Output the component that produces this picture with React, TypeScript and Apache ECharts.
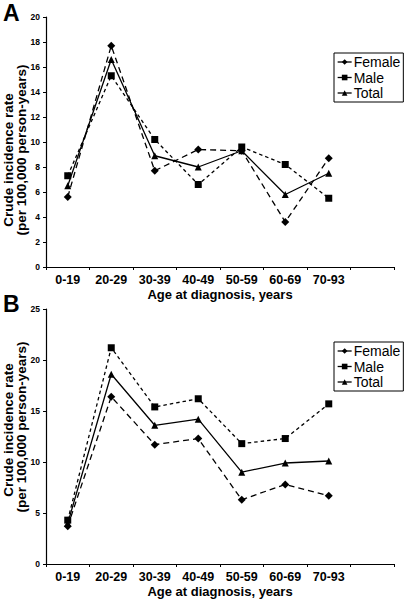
import React, { useEffect, useRef } from "react";
import * as echarts from "echarts";

const categories = ["0-19", "20-29", "30-39", "40-49", "50-59", "60-69", "70-93", ""];

const femaleA = [5.6, 17.7, 7.7, 9.4, 9.3, 3.6, 8.7];
const maleA = [7.3, 15.3, 10.2, 6.6, 9.6, 8.2, 5.5];
const totalA = [6.5, 16.6, 8.9, 8.0, 9.3, 5.8, 7.5];

const femaleB = [3.7, 16.4, 11.7, 12.3, 6.3, 7.8, 6.7];
const maleB = [4.3, 21.2, 15.4, 16.2, 11.8, 12.3, 15.7];
const totalB = [4.0, 18.6, 13.6, 14.2, 9.0, 9.9, 10.1];

const yName1 = "Crude incidence rate";
const yName2 = "(per 100,000 person-years)";

const FONT = "'Liberation Sans', Arial, Helvetica, sans-serif";

export default function App() {
  const ref = useRef<HTMLDivElement>(null);
  useEffect(() => {
    if (!ref.current) return;
    const chart = echarts.init(ref.current, null, { renderer: "svg" });

    const xAxisBase = (gridIndex: number) => ({
      type: "category" as const,
      gridIndex,
      data: categories,
      boundaryGap: true,
      name: "Age at diagnosis, years",
      nameLocation: "middle" as const,
      nameGap: 21,
      nameTextStyle: { fontFamily: FONT, fontWeight: "bold", fontSize: 13, color: "#000" },
      axisLine: { lineStyle: { color: "#000", width: 1.2 } },
      axisTick: { show: true, interval: 0, length: 3, inside: false, lineStyle: { color: "#000" } },
      axisLabel: { interval: 0, margin: 6, fontFamily: FONT, fontWeight: "bold", fontSize: 12.5, color: "#000" },
      splitLine: { show: false },
    });

    const yAxisBase = (gridIndex: number, max: number, interval: number) => ({
      type: "value" as const,
      gridIndex,
      min: 0,
      max,
      interval,
      axisLine: { show: true, lineStyle: { color: "#000", width: 1.2 } },
      axisTick: { show: true, length: 3, lineStyle: { color: "#000" } },
      axisLabel: { margin: 6, fontFamily: FONT, fontWeight: "bold", fontSize: 8.5, color: "#000" },
      splitLine: { show: false },
    });

    const mk = (
      name: string,
      data: number[],
      idx: number,
      symbol: string,
      size: number,
      dash: any
    ) => ({
      name,
      type: "line" as const,
      xAxisIndex: idx,
      yAxisIndex: idx,
      data,
      symbol,
      symbolSize: size,
      showSymbol: true,
      lineStyle: { color: "#000", width: 1.3, type: dash },
      itemStyle: { color: "#000" },
    });

    const legendBase = (top: number) => ({
      orient: "vertical" as const,
      left: 334,
      top,
      data: ["Female", "Male", "Total"],
      lineStyle: { type: "solid", width: 1.3, color: "#000" },
      borderColor: "#000",
      borderWidth: 1,
      borderRadius: 0,
      padding: [2, 3, 2, 3],
      itemGap: 1.5,
      itemWidth: 14,
      itemHeight: 7,
      selectedMode: false,
      textStyle: { fontFamily: FONT, fontSize: 14, color: "#000", padding: [0, 0, 0, -3] },
    });

    const yTitle = (x: number, y: number, text: string) => ({
      type: "text" as const,
      x,
      y,
      rotation: Math.PI / 2,
      style: {
        text,
        font: `bold 13.5px ${FONT}`,
        fill: "#000",
        align: "center",
        verticalAlign: "middle",
      },
    });

    chart.setOption({
      animation: false,
      backgroundColor: "#fff",
      grid: [
        { left: 46, top: 17, width: 348, height: 250 },
        { left: 46, top: 309, width: 348, height: 256 },
      ],
      xAxis: [xAxisBase(0), xAxisBase(1)],
      yAxis: [yAxisBase(0, 20, 2), yAxisBase(1, 25, 5)],
      legend: [legendBase(53), legendBase(342)],
      graphic: [
        { type: "text", left: 3, top: 1, style: { text: "A", font: `bold 23px ${FONT}`, fill: "#000" } },
        { type: "text", left: 3, top: 292, style: { text: "B", font: `bold 23px ${FONT}`, fill: "#000" } },
        yTitle(8, 160, yName1),
        yTitle(21, 150, yName2),
        yTitle(8, 430, yName1),
        yTitle(21, 427, yName2),
      ],
      series: [
        mk("Female", femaleA, 0, "diamond", 8, [6, 4]),
        mk("Male", maleA, 0, "rect", 7, [3.5, 3]),
        mk("Total", totalA, 0, "triangle", 7, "solid"),
        mk("Female", femaleB, 1, "diamond", 8, [6, 4]),
        mk("Male", maleB, 1, "rect", 7, [3.5, 3]),
        mk("Total", totalB, 1, "triangle", 7, "solid"),
      ],
    });
    return () => chart.dispose();
  }, []);
  return <div ref={ref} style={{ width: 404, height: 599, position: "absolute", left: 0, top: 0 }} />;
}
